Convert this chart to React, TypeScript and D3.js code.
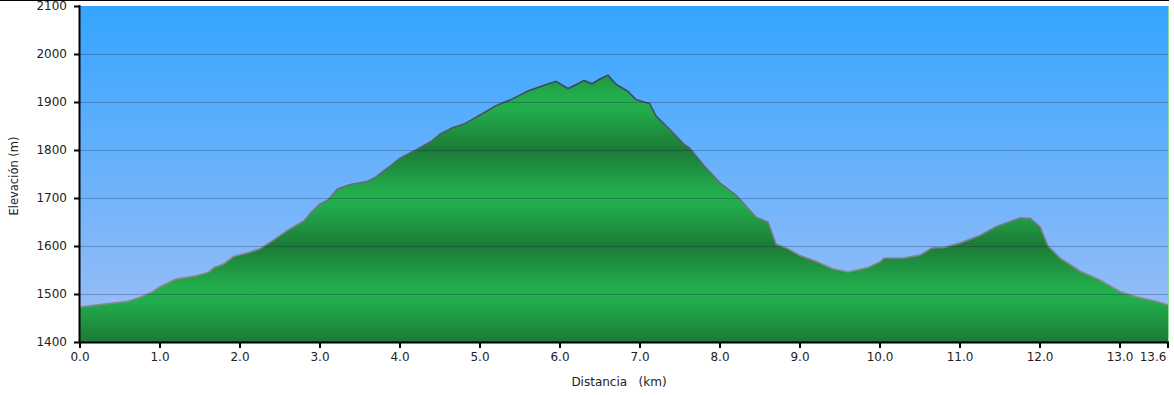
import React from 'react';
import * as d3 from 'd3';

// distance (km) / elevation (m)
const distances = [
  0, 0.3, 0.6, 0.78, 0.9, 1.0, 1.2, 1.45, 1.6, 1.68, 1.79, 1.92, 2.1, 2.25, 2.4,
  2.6, 2.8, 2.9, 3.0, 3.1, 3.22, 3.38, 3.6, 3.7, 3.85, 4.0, 4.2, 4.4, 4.5, 4.65,
  4.8, 5.0, 5.2, 5.4, 5.6, 5.8, 5.95, 6.1, 6.25, 6.3, 6.4, 6.5, 6.6, 6.7, 6.85,
  6.95, 7.05, 7.12, 7.2, 7.4, 7.55, 7.62, 7.8, 8.0, 8.2, 8.45, 8.6, 8.7, 8.85,
  9.0, 9.2, 9.4, 9.6, 9.85, 10.0, 10.05, 10.3, 10.5, 10.65, 10.8, 11.0, 11.25,
  11.45, 11.65, 11.75, 11.88, 12.0, 12.1, 12.25, 12.5, 12.75, 13.0, 13.2, 13.45,
  13.6,
];
const elevations = [
  1473, 1479, 1485, 1495, 1504, 1515, 1531, 1538, 1545, 1556, 1562, 1578, 1586,
  1594, 1610, 1633, 1652, 1672, 1687, 1696, 1719, 1728, 1735, 1744, 1763, 1783,
  1800, 1819, 1833, 1846, 1854, 1873, 1892, 1906, 1923, 1935, 1943, 1928, 1940,
  1945, 1938, 1948, 1956, 1937, 1922, 1905, 1900, 1897, 1871, 1838, 1812, 1804,
  1767, 1731, 1706, 1660, 1650, 1604, 1594, 1580, 1568, 1553, 1546, 1555, 1567,
  1575, 1575, 1581, 1596, 1597, 1606, 1622, 1640, 1652, 1658, 1657, 1640, 1600,
  1575, 1548, 1529, 1505, 1494, 1485, 1477,
];
const yTicks = [1400, 1500, 1600, 1700, 1800, 1900, 2000, 2100];
const xTicks = [0, 1, 2, 3, 4, 5, 6, 7, 8, 9, 10, 11, 12, 13, 13.6];

export default function App() {
  const width = 1174;
  const height = 395;
  const left = 80, right = 1168, top = 6, bottom = 342;

  const x = d3.scaleLinear().domain([0, 13.6]).range([left, right]);
  const y = d3.scaleLinear().domain([1400, 2100]).range([bottom, top]);

  const data = distances.map((d, i) => [d, elevations[i]] as [number, number]);
  const area = d3.area<[number, number]>()
    .x(d => x(d[0]))
    .y0(bottom)
    .y1(d => y(d[1]));
  const line = d3.line<[number, number]>()
    .x(d => x(d[0]))
    .y(d => y(d[1]));

  const font = 'Verdana, "DejaVu Sans", sans-serif';

  return (
    <svg width={width} height={height} style={{ position: 'absolute', left: 0, top: 0, background: '#fff' }}>
      <defs>
        <linearGradient id="sky" x1="0" y1={top} x2="0" y2={bottom} gradientUnits="userSpaceOnUse">
          <stop offset="0" stopColor="#35a5ff" />
          <stop offset="1" stopColor="#a0bff7" />
        </linearGradient>
        <linearGradient id="ground" x1="0" y1={y(1400)} x2="0" y2={y(1500)} gradientUnits="userSpaceOnUse" spreadMethod="reflect">
          <stop offset="0" stopColor="#1c7a36" />
          <stop offset="0.85" stopColor="#22ad4c" />
          <stop offset="1" stopColor="#22ae4d" />
        </linearGradient>
        <linearGradient id="rim" x1="0" y1={y(1950)} x2="0" y2={y(1550)} gradientUnits="userSpaceOnUse">
          <stop offset="0" stopColor="#3b4556" />
          <stop offset="1" stopColor="#8a8a8e" />
        </linearGradient>
      </defs>

      <line x1={0} x2={1169} y1={0.5} y2={0.5} stroke="#000" />

      <rect x={left} y={top} width={right - left} height={bottom - top} fill="url(#sky)" />
      <path d={area(data) ?? ''} fill="url(#ground)" />
      <path d={line(data) ?? ''} fill="none" stroke="url(#rim)" strokeWidth={1.6} />

      {/* grid */}
      {yTicks.slice(1, -1).map(t => (
        <line key={t} x1={left} x2={right} y1={y(t) + 0.5} y2={y(t) + 0.5} stroke="rgba(10,30,60,0.28)" strokeWidth={1} />
      ))}

      <line x1={right + 0.5} x2={right + 0.5} y1={top} y2={bottom} stroke="#8fdc95" />

      {/* y axis */}
      <line x1={left - 0.5} x2={left - 0.5} y1={top - 1} y2={bottom + 1} stroke="#000" strokeWidth={2} />
      {yTicks.map(t => (
        <g key={t}>
          <line x1={left - 6} x2={left} y1={y(t) + 0.5} y2={y(t) + 0.5} stroke="#000" strokeWidth={2} />
          <text x={67} y={y(t) + 4} textAnchor="end" fontFamily={font} fontSize={12} fill="#222">{t}</text>
        </g>
      ))}
      <text transform="translate(18,176) rotate(-90)" textAnchor="middle" fontFamily={font} fontSize={11.5} fill="#222">Elevación (m)</text>

      {/* x axis */}
      <line x1={left - 1} x2={right + 1} y1={bottom + 0.5} y2={bottom + 0.5} stroke="#000" strokeWidth={2} />
      {xTicks.map(t => (
        <g key={t}>
          <line x1={x(t)} x2={x(t)} y1={bottom} y2={bottom + 6} stroke="#000" strokeWidth={2} />
          <text x={x(t) - (t === 13.6 ? 15 : 0)} y={361} textAnchor="middle" fontFamily={font} fontSize={12} fill="#222">{t.toFixed(1)}</text>
        </g>
      ))}
      <text x={619} y={386} textAnchor="middle" fontFamily={font} fontSize={12} fill="#222" style={{ whiteSpace: 'pre' }}>{'Distancia   (km)'}</text>
    </svg>
  );
}
